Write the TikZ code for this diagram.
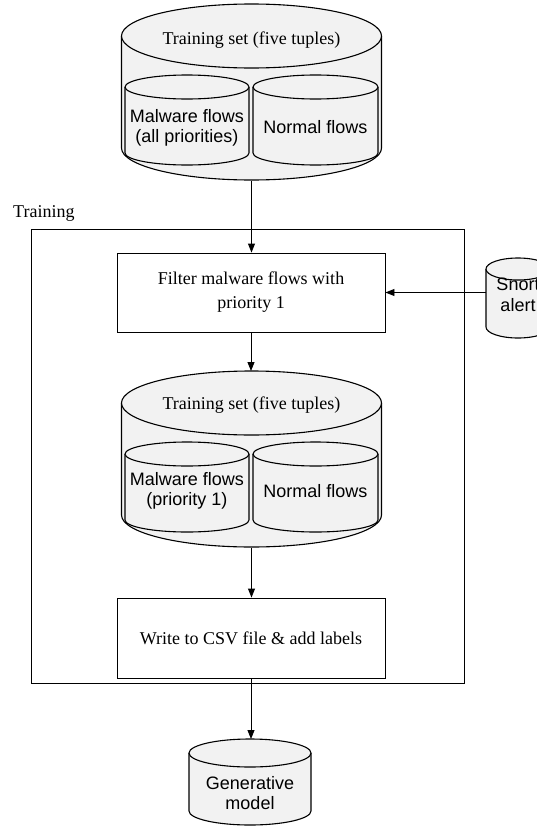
\documentclass[tikz,border=0pt]{standalone}
\usepackage{fontspec}
\setmainfont{Liberation Serif}
\setsansfont{Liberation Sans}
\usetikzlibrary{arrows.meta}
\definecolor{cylfill}{HTML}{F2F2F2}
\newcommand\mycyl[5]{% cx, yt, yb, rx, ry
  \fill[cylfill] ({#1-#4},{-#2}) -- ({#1-#4},{-#3}) arc[start angle=180,end angle=360,x radius=#4pt,y radius=#5pt] -- ({#1+#4},{-#2}) -- cycle;
  \draw[cyledge] ({#1-#4},{-#2}) -- ({#1-#4},{-#3}) arc[start angle=180,end angle=360,x radius=#4pt,y radius=#5pt] -- ({#1+#4},{-#2});
  \draw[cyledge,fill=cylfill] (#1,{-#2}) ellipse[x radius=#4pt,y radius=#5pt];
}
\tikzset{
  cyledge/.style={line width=1.1pt,black},
  serif/.style={font=\fontsize{18}{24}\selectfont\rmfamily,align=center,inner sep=0pt},
  sans/.style={font=\fontsize{18}{20.5}\selectfont\sffamily,align=center,inner sep=0pt},
  procbox/.style={draw,line width=0.9pt,minimum width=268pt,inner sep=0pt,font=\fontsize{18}{24}\selectfont\rmfamily,align=center},
  ghost/.style={inner sep=0pt,outer sep=0pt},
  arr/.style={line width=0.9pt,-{Triangle[length=9pt,width=7pt]}},
}
\begin{document}
\begin{tikzpicture}[x=1pt,y=1pt]
\useasboundingbox (0,0) rectangle (536,-827);

% training frame
\node[draw,line width=0.9pt,minimum width=433pt,minimum height=454pt,inner sep=0pt] (frame) at (247.5,-456) {};
\node[serif,anchor=west] (trainlbl) at (13,-213) {Training};

% top training set cylinder
\mycyl{251.5}{36}{148}{130}{32}
\mycyl{187}{87}{153}{62}{12}
\mycyl{315.5}{87}{153}{62.5}{12}
\node[ghost,minimum width=260pt,minimum height=177pt] (ts1) at (251.5,-92.5) {};
\node[serif] (ts1t) at (251.5,-40) {Training set (five tuples)};
\node[sans] (ts1m) at (187,-128) {Malware flows\\(all priorities)};
\node[sans] (ts1n) at (315.5,-127) {Normal flows};

% filter box
\node[procbox,minimum height=79pt] (filter) at (251,-292.5) {Filter malware flows with\\priority 1};

% snort alert
\mycyl{518}{269}{327}{32}{11}
\node[ghost,minimum width=64pt,minimum height=80pt] (snort) at (518,-298) {};
\node[sans] (snortt) at (518,-295) {Snort\\alert};

% second training set cylinder
\mycyl{251.5}{403}{515}{130}{32}
\mycyl{187}{454}{520}{62}{12}
\mycyl{315.5}{454}{520}{62.5}{12}
\node[ghost,minimum width=260pt,minimum height=177pt] (ts2) at (251.5,-459.5) {};
\node[serif] (ts2t) at (251.5,-405) {Training set (five tuples)};
\node[sans] (ts2m) at (187,-491) {Malware flows\\(priority 1)};
\node[sans] (ts2n) at (315.5,-491) {Normal flows};

% write box
\node[procbox,minimum height=80pt] (write) at (251,-638) {Write to CSV file \& add labels};

% generative model
\mycyl{250}{753}{811}{61}{14}
\node[ghost,minimum width=122pt,minimum height=86pt] (gen) at (250,-782) {};
\node[sans] (gent) at (250,-793) {Generative\\model};

% connectors
\draw[arr] (ts1.south) -- (ts1.south |- filter.north);
\draw[arr] (snort.west |- filter.east) -- (filter.east);
\draw[arr] (filter.south) -- (filter.south |- ts2.north);
\draw[arr] (ts2.south) -- (ts2.south |- write.north);
\draw[arr] (write.south) -- (write.south |- gen.north);
\end{tikzpicture}
\end{document}
